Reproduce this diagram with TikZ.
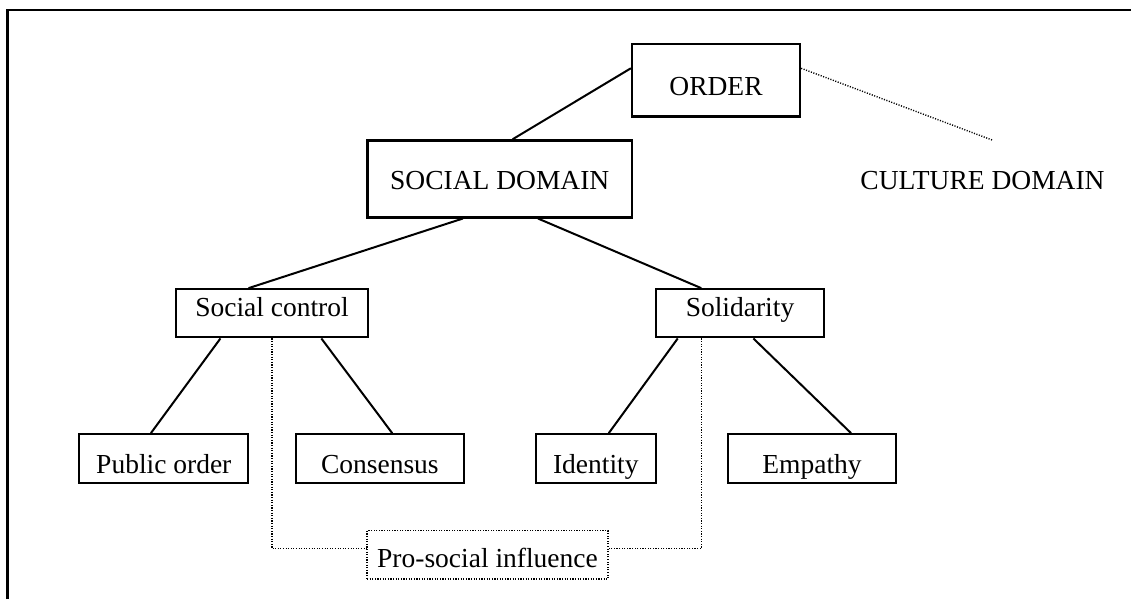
\documentclass[tikz,border=0pt]{standalone}
\usepackage{fontspec}
\setmainfont{Liberation Serif}
\begin{document}
\begin{tikzpicture}[x = 1pt, y = -1pt,
    every node/.style = {font = \fontsize{27.5}{33}\selectfont},
    box/.style = {draw, line width = 2.3pt, inner sep = 0pt},
    mid/.style = {box, minimum height = 48pt, text height = 19pt, text depth = 12pt},
    leaf/.style = {box, minimum height = 48.4pt, text height = 29pt, text depth = 0pt},
    link/.style = {line width = 2pt},
    dots/.style = {line width = 1.4pt, dash pattern = on 1.1pt off 1.5pt}]
    \useasboundingbox (0,0) rectangle (1131,599);
    \draw[line width = 2.3pt] (7.5,599) -- (7.5,10) -- (1131,10);
    % top of the tree
    \node[box, minimum width = 168pt, minimum height = 72.5pt, text height = 31pt, text depth = 0pt] (order) at (716,80.25) {ORDER};
    \node[box, minimum width = 264.5pt, minimum height = 77pt, text height = 21pt, text depth = 0pt] (social) at (499.75,178.9) {SOCIAL DOMAIN};
    \node[anchor = base] (culture) at (982.5,189.3) {CULTURE DOMAIN};
    \coordinate (cend) at (992,140);
    % second row
    \node[mid, minimum width = 192.6pt] (control) at (272,313.3) {Social control};
    \node[mid, minimum width = 168pt] (solid) at (740,313.3) {Solidarity};
    % leaves
    \node[leaf, minimum width = 169pt] (public) at (163.8,458.5) {Public order};
    \node[leaf, minimum width = 168.3pt] (consensus) at (379.85,458.5) {Consensus};
    \node[leaf, minimum width = 120.3pt] (identity) at (595.85,458.5) {Identity};
    \node[leaf, minimum width = 168.6pt] (empathy) at (812,458.5) {Empathy};
    \node[draw, dots, inner sep = 0pt, minimum width = 241pt, minimum height = 48.3pt, text height = 25pt, text depth = 0pt] (prosocial) at (487.5,554.85) {Pro-social influence};
    \draw[link] (order.172) -- (social.72);
    \draw[dots] (order.8) -- (cend);
    \draw[link] (social.227) -- (control.133);
    \draw[link] (social.314) -- (solid.147);
    \draw[link] (control.206) -- (public.117);
    \draw[link] (control.333) -- (consensus.64);
    \draw[link] (solid.202) -- (identity.63);
    \draw[link] (solid.298) -- (empathy.33);
    \draw[dots] (control.south) |- (prosocial.177);
    \draw[dots] (solid.213) |- (prosocial.3);
\end{tikzpicture}
\end{document}
